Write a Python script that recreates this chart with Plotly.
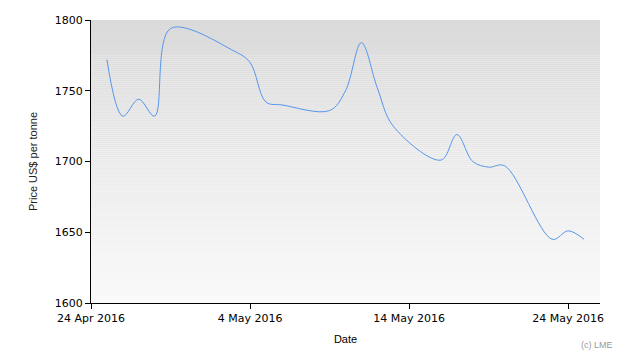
import plotly.graph_objects as go

dates = ["2016-04-25", "2016-04-26", "2016-04-27", "2016-04-28", "2016-04-29",
         "2016-05-03", "2016-05-04", "2016-05-05", "2016-05-06",
         "2016-05-09", "2016-05-10", "2016-05-11", "2016-05-12", "2016-05-13",
         "2016-05-16", "2016-05-17", "2016-05-18", "2016-05-19", "2016-05-20",
         "2016-05-23", "2016-05-24", "2016-05-25"]
prices = [1772, 1732, 1744, 1732, 1794,
          1778, 1770, 1742, 1740,
          1736, 1750, 1784, 1752, 1725,
          1701, 1719, 1700, 1696, 1697,
          1645, 1651, 1645]
tick_dates = ["2016-04-24", "2016-05-04", "2016-05-14", "2016-05-24"]
tick_labels = ["24 Apr 2016", "4 May 2016", "14 May 2016", "24 May 2016"]
y_ticks = [1600, 1650, 1700, 1750, 1800]

fig = go.Figure()
fig.add_trace(go.Scatter(x=dates, y=prices, mode="lines",
                         line=dict(color="#5596ee", width=1, shape="spline", smoothing=1),
                         hoverinfo="x+y", showlegend=False))

# vertical gradient background for plot area
n = 142
shapes = []
for i in range(n):
    t = i / (n - 1)
    c = int(round(218 + (250 - 218) * t))
    shapes.append(dict(type="rect", xref="x domain", yref="y domain",
                       x0=0, x1=1, y0=1 - (i + 1) / n, y1=1 - i / n,
                       fillcolor=f"rgb({c},{c},{c})", line=dict(width=0), layer="below"))

fig.update_layout(
    width=630, height=360,
    margin=dict(l=91, r=30, t=20, b=57),
    paper_bgcolor="white", plot_bgcolor="white",
    shapes=shapes,
    font=dict(family="DejaVu Sans", size=11, color="#000000"),
    xaxis=dict(type="date", range=["2016-04-24", "2016-05-26"],
               tickmode="array", tickvals=tick_dates, ticktext=tick_labels,
               showline=True, linecolor="black", linewidth=1,
               ticks="outside", ticklen=5, tickcolor="black",
               showgrid=False, zeroline=False,
               title=dict(text="Date", font=dict(family="Liberation Sans", size=11), standoff=11)),
    yaxis=dict(range=[1600, 1800], tickmode="array", tickvals=y_ticks,
               showline=True, linecolor="black", linewidth=1,
               ticks="outside", ticklen=5, tickcolor="black",
               showgrid=False, zeroline=False,
               title=dict(text="Price US$ per tonne", font=dict(family="Liberation Sans", size=11, color="#222222"), standoff=14)),
    annotations=[dict(text="(c) LME", xref="paper", yref="paper", x=1.0, y=0,
                      xanchor="center", yanchor="middle", yshift=-42, xshift=-3,
                      showarrow=False, font=dict(family="Liberation Sans", size=9, color="#999999"))],
)

fig.write_html("out.html")
